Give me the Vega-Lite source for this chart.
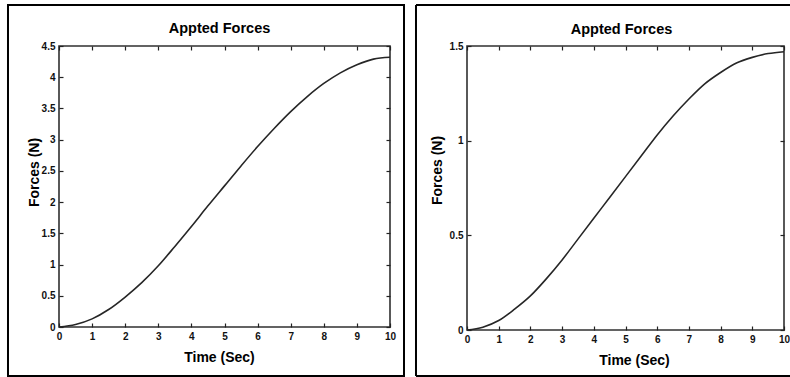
{
  "$schema": "https://vega.github.io/schema/vega-lite/v6.json",
  "background": "white",
  "padding": {"left": 6, "top": 3, "right": 0, "bottom": 0},
  "spacing": 8,
  "datasets": {
    "left": [
      {"t": 0, "f": 0}, {"t": 0.5, "f": 0.04}, {"t": 1, "f": 0.13}, {"t": 1.5, "f": 0.28},
      {"t": 2, "f": 0.48}, {"t": 2.5, "f": 0.71}, {"t": 3, "f": 0.98}, {"t": 3.5, "f": 1.29},
      {"t": 4, "f": 1.61}, {"t": 4.5, "f": 1.94}, {"t": 5, "f": 2.26}, {"t": 5.5, "f": 2.58},
      {"t": 6, "f": 2.89}, {"t": 6.5, "f": 3.18}, {"t": 7, "f": 3.45}, {"t": 7.5, "f": 3.69},
      {"t": 8, "f": 3.9}, {"t": 8.5, "f": 4.07}, {"t": 9, "f": 4.2}, {"t": 9.5, "f": 4.29},
      {"t": 10, "f": 4.32}
    ],
    "right": [
      {"t": 0, "f": 0}, {"t": 0.5, "f": 0.015}, {"t": 1, "f": 0.05}, {"t": 1.5, "f": 0.11},
      {"t": 2, "f": 0.18}, {"t": 2.5, "f": 0.27}, {"t": 3, "f": 0.37}, {"t": 3.5, "f": 0.48},
      {"t": 4, "f": 0.59}, {"t": 4.5, "f": 0.7}, {"t": 5, "f": 0.81}, {"t": 5.5, "f": 0.92},
      {"t": 6, "f": 1.03}, {"t": 6.5, "f": 1.13}, {"t": 7, "f": 1.22}, {"t": 7.5, "f": 1.3},
      {"t": 8, "f": 1.36}, {"t": 8.5, "f": 1.41}, {"t": 9, "f": 1.44}, {"t": 9.5, "f": 1.46},
      {"t": 10, "f": 1.47}
    ],
    "one": [{}]
  },
  "hconcat": [
    {
      "width": 331,
      "height": 281,
      "title": {"text": "Appted Forces", "offset": -33, "dx": -5},
      "resolve": {"axis": {"x": "independent", "y": "independent"}},
      "layer": [
        {
          "data": {"name": "left"},
          "mark": {"type": "line", "color": "#262626", "strokeWidth": 1.6, "interpolate": "monotone"},
          "encoding": {
            "x": {"field": "t", "type": "quantitative",
                  "scale": {"domain": [0, 10], "nice": false, "zero": false},
                  "axis": {"orient": "bottom", "title": "Time (Sec)", "values": [0,1,2,3,4,5,6,7,8,9,10], "format": "~f", "labelPadding": 8, "titlePadding": 9, "titleX": 160}},
            "y": {"field": "f", "type": "quantitative",
                  "scale": {"domain": [0, 4.5], "nice": false, "zero": false},
                  "axis": {"orient": "left", "title": "Forces (N)", "values": [0,0.5,1,1.5,2,2.5,3,3.5,4,4.5], "format": "~f", "labelPadding": 8, "titlePadding": 0, "titleY": 126}}
          }
        },
        {
          "data": {"name": "one"},
          "mark": {"type": "rect", "filled": false, "stroke": "black", "strokeWidth": 2, "clip": false},
          "encoding": {
            "x": {"datum": -1.541, "type": "quantitative",
                  "scale": {"domain": [0, 10], "nice": false, "zero": false},
                  "axis": {"orient": "top", "title": null, "labels": false, "values": [0,1,2,3,4,5,6,7,8,9,10]}},
            "x2": {"datum": 10.423},
            "y": {"datum": -0.785, "type": "quantitative",
                  "scale": {"domain": [0, 4.5], "nice": false, "zero": false},
                  "axis": {"orient": "right", "title": null, "labels": false, "values": [0,0.5,1,1.5,2,2.5,3,3.5,4,4.5]}},
            "y2": {"datum": 5.157}
          }
        }
      ]
    },
    {
      "width": 317,
      "height": 284,
      "title": {"text": "Appted Forces", "offset": -33, "dx": -4},
      "resolve": {"axis": {"x": "independent", "y": "independent"}},
      "layer": [
        {
          "data": {"name": "right"},
          "mark": {"type": "line", "color": "#262626", "strokeWidth": 1.6, "interpolate": "monotone"},
          "encoding": {
            "x": {"field": "t", "type": "quantitative",
                  "scale": {"domain": [0, 10], "nice": false, "zero": false},
                  "axis": {"orient": "bottom", "title": "Time (Sec)", "values": [0,1,2,3,4,5,6,7,8,9,10], "format": "~f", "labelPadding": 8, "titlePadding": 9, "titleX": 167}},
            "y": {"field": "f", "type": "quantitative",
                  "scale": {"domain": [0, 1.5], "nice": false, "zero": false},
                  "axis": {"orient": "left", "title": "Forces (N)", "values": [0,0.5,1,1.5], "format": "~f", "labelPadding": 8, "titlePadding": 5, "titleY": 124}}
          }
        },
        {
          "data": {"name": "one"},
          "mark": {"type": "rule", "color": "black", "strokeWidth": 2, "clip": false},
          "encoding": {
            "x": {"datum": -1.609, "type": "quantitative",
                  "scale": {"domain": [0, 10], "nice": false, "zero": false},
                  "axis": {"orient": "top", "title": null, "labels": false, "values": [0,1,2,3,4,5,6,7,8,9,10]}},
            "x2": {"datum": 10.25},
            "y": {"datum": 1.7165, "type": "quantitative",
                  "scale": {"domain": [0, 1.5], "nice": false, "zero": false},
                  "axis": {"orient": "right", "title": null, "labels": false, "values": [0,0.5,1,1.5]}}
          }
        },
        {
          "data": {"name": "one"},
          "mark": {"type": "rule", "color": "black", "strokeWidth": 2, "clip": false},
          "encoding": {
            "x": {"datum": -1.609, "type": "quantitative",
                  "scale": {"domain": [0, 10], "nice": false, "zero": false}, "axis": null},
            "y": {"datum": -0.243, "type": "quantitative",
                  "scale": {"domain": [0, 1.5], "nice": false, "zero": false}, "axis": null},
            "y2": {"datum": 1.7165}
          }
        },
        {
          "data": {"name": "one"},
          "mark": {"type": "rule", "color": "black", "strokeWidth": 2, "clip": false},
          "encoding": {
            "x": {"datum": -1.609, "type": "quantitative",
                  "scale": {"domain": [0, 10], "nice": false, "zero": false}, "axis": null},
            "x2": {"datum": 10.25},
            "y": {"datum": -0.243, "type": "quantitative",
                  "scale": {"domain": [0, 1.5], "nice": false, "zero": false}, "axis": null}
          }
        }
      ]
    }
  ],
  "config": {
    "view": {"stroke": "#303030", "strokeWidth": 1.6},
    "title": {"font": "Liberation Sans", "fontSize": 14.5, "fontWeight": "bold", "color": "black", "anchor": "middle"},
    "axis": {
      "labelFont": "Liberation Sans", "labelFontSize": 10, "labelFontWeight": "bold", "labelColor": "#111",
      "labelFlush": false, "labelOverlap": false,
      "titleFont": "Liberation Sans", "titleFontSize": 14, "titleFontWeight": "bold", "titleColor": "black",
      "tickColor": "#222", "tickSize": -4, "tickWidth": 1.2, "domain": false, "grid": false
    }
  }
}
